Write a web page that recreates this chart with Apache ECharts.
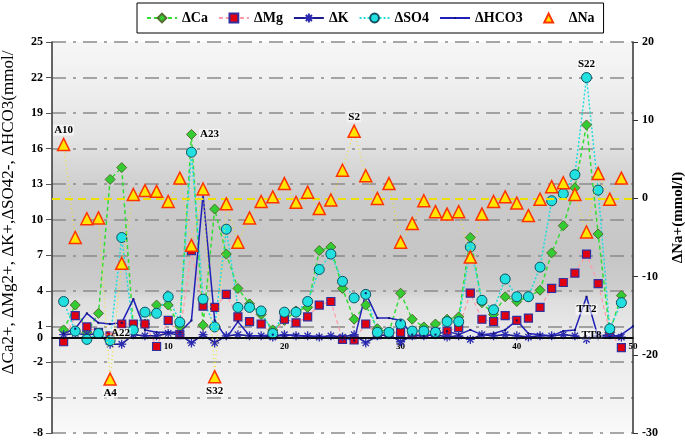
<!DOCTYPE html>
<html><head><meta charset="utf-8">
<script src="https://cdn.jsdelivr.net/npm/echarts@6/dist/echarts.min.js"></script>
<style>html,body{margin:0;padding:0;background:#fff}#c{width:685px;height:440px}</style>
</head><body><div id="c"></div>
<script>
// sample number (x)
const samples = [1,2,3,4,5,6,7,8,9,10,11,12,13,14,15,16,17,18,19,20,21,22,23,24,25,26,27,28,29,30,31,32,33,34,35,36,37,38,39,40,41,42,43,44,45,46,47,48,49,50];
// left axis series (mmol/l)
const dCa   = [0.7,2.8,0.5,2.1,13.4,14.4,0.8,1.2,2.8,2.8,1.0,17.2,1.1,10.9,7.1,4.2,2.9,2.0,0.7,1.5,2.3,2.6,7.4,7.7,4.2,1.6,2.8,0.8,0.5,3.8,1.6,0.95,1.2,1.6,1.8,8.5,3.0,2.0,3.5,3.1,3.5,4.05,7.2,9.5,12.7,18.0,8.8,0.5,3.6];
const dMg   = [-0.3,1.9,0.95,0.5,0.2,1.2,1.2,1.2,-0.7,1.5,0.3,7.4,2.7,2.6,3.7,1.8,1.4,1.2,0.3,1.6,1.3,1.8,2.8,3.1,-0.1,-0.15,1.2,0.3,0.4,0.5,0.3,0.4,0.5,0.6,0.9,3.8,1.6,1.4,1.9,1.5,1.7,2.6,4.2,4.7,5.5,7.1,4.6,0.5,-0.8];
const dK    = [0.3,0.4,0.3,0.4,-0.5,-0.5,0.3,0.2,0.2,0.4,0.3,-0.4,0.3,-0.4,0.2,0.3,0.2,0.2,0.1,0.3,0.2,0.2,0.1,0.2,0.1,0.3,-0.4,0.2,0.3,-0.3,0.2,0.2,0.3,0.1,0.2,-0.1,0.3,0.2,0.3,0.2,0.1,0.2,0.2,0.3,0.2,-0.1,0.2,0.3,0.1];
const dSO4  = [3.1,0.6,-0.1,0.4,-0.2,8.5,0.7,2.2,2.1,3.5,1.35,15.7,3.3,0.95,9.2,2.6,2.6,2.3,0.4,2.2,2.2,3.1,5.8,7.1,4.8,3.4,3.7,0.5,0.5,1.2,0.6,0.6,0.5,1.4,1.4,7.7,3.2,2.4,5.0,3.5,3.5,6.0,11.6,12.2,13.8,22.0,12.5,0.8,3.0];
const dHCO3 = [0.4,0.8,2.1,1.3,1.2,1.3,3.3,0.7,0.5,0.5,0.5,1.5,12.1,1.5,0.0,1.4,0.2,0.2,0.3,0.2,0.3,0.1,0.2,0.0,0.1,-0.2,3.8,1.7,1.7,1.5,0.3,0.2,0.3,0.6,0.3,0.7,0.3,0.4,0.7,1.5,0.4,0.3,0.2,0.6,0.7,3.5,0.1,0.1,0.3,1.0];
// right axis series (mmol/l)
const dNa   = [6.9,-5.0,-2.6,-2.5,-23.1,-8.3,0.5,1.0,0.9,-0.4,2.6,-6.0,1.2,-22.8,-0.7,-5.6,-2.5,-0.4,0.2,1.9,-0.5,0.8,-1.3,-0.2,3.6,8.6,2.9,0.0,1.9,-5.6,-3.2,-0.3,-1.7,-2.0,-1.7,-7.5,-2.0,-0.4,0.2,-0.6,-2.2,-0.1,1.5,2.0,0.5,-4.3,3.2,-0.1,2.6];
// axis ticks
const leftMin = -8, leftMax = 25, leftStep = 3;
const rightMin = -30, rightMax = 20, rightStep = 10;
const xMin = 0, xMax = 50, xStep = 10;
// point annotations
const annSeries = ['ΔNa','ΔCa','ΔNa','ΔSO4','ΔNa','ΔNa','ΔK','ΔHCO3','ΔK'];
const annIndex  = [0,11,25,45,4,13,4,45,47];
const annText   = ['A10','A23','S2','S22','A4','S32','A22','TT2','TT8'];
const annPos    = ['top','right','top','top','bottom','bottom',[5,-11],'bottom','left'];

const FONT = 'Liberation Serif';
const GRID = {left:52, right:52, top:42, bottom:7};
const plotH = 440 - GRID.top - GRID.bottom;
function build(name, arr){
  return arr.map((v,i)=>{
    const k = annSeries.findIndex((s,j)=>s===name && annIndex[j]===i);
    if(k<0) return [samples[i], v];
    return {value:[samples[i], v], label:{show:true, formatter:annText[k], position:annPos[k],
      distance: 2, fontFamily:FONT, fontWeight:'bold', fontSize:11, color:'#000',
      backgroundColor:'rgba(255,255,255,0.55)', padding:[0,1]}};
  });
}
const asterisk = 'path://M0,5 L10,5 M5,0 L5,10 M1.5,1.5 L8.5,8.5 M8.5,1.5 L1.5,8.5';
const tinyDot = 'path://M4,4 L6,4 L6,6 L4,6 Z M0,0 L0,0 M10,10 L10,10';

const chart = echarts.init(document.getElementById('c'), null, {renderer:'canvas'});
chart.setOption({
  animation:false,
  backgroundColor:'#fff',
  textStyle:{fontFamily:FONT},
  legend:{
    top:3, left:137, borderColor:'#000', borderWidth:1, padding:[8,9],
    itemGap:10, itemWidth:30, itemHeight:11,
    textStyle:{fontFamily:FONT, fontWeight:'bold', fontSize:14, color:'#000'},
    data:['ΔCa','ΔMg','ΔK','ΔSO4','ΔHCO3',{name:'ΔNa', lineStyle:{opacity:0}}]
  },
  grid:Object.assign({containLabel:false, outerBoundsMode:'none', show:true, borderWidth:0,
    backgroundColor:new echarts.graphic.LinearGradient(0,0,0,1,[
      {offset:0,color:'#f6f6f6'},{offset:0.1,color:'#f0f0f0'},{offset:0.25,color:'#e3e3e3'},
      {offset:0.33,color:'#d5d5d5'},{offset:0.40,color:'#cbcbcb'},{offset:0.55,color:'#c6c6c6'},
      {offset:0.63,color:'#cdcdcd'},{offset:0.66,color:'#dedede'},{offset:0.72,color:'#e6e6e6'},
      {offset:0.80,color:'#ececec'},{offset:0.92,color:'#f3f3f3'},{offset:1,color:'#fafafa'}])}, GRID),
  xAxis:{type:'value', min:xMin, max:xMax, interval:xStep, position:'bottom',
    // the x axis sits on the left axis' zero line
    offset: -plotH * (0 - leftMin) / (leftMax - leftMin),
    axisLine:{onZero:false, lineStyle:{color:'#000', width:1.5}},
    axisTick:{show:false}, splitLine:{show:false},
    axisLabel:{showMinLabel:false, margin:4, fontFamily:FONT, fontWeight:'bold', fontSize:9, color:'#000'}},
  yAxis:[
    {type:'value', min:leftMin, max:leftMax, interval:leftStep, position:'left',
     name:'ΔCa2+, ΔMg2+, ΔK+,ΔSO42-, ΔHCO3(mmol/', nameLocation:'middle', nameRotate:90, nameGap:35,
     nameMoveOverlap:false,
     nameTextStyle:{fontFamily:FONT, fontSize:17, color:'#000', padding:[0,0,0,50]},
     axisLine:{show:true, onZero:false, lineStyle:{color:'#333', width:1.5}},
     axisTick:{show:true, length:6, lineStyle:{color:'#555'}},
     axisLabel:{margin:9, fontFamily:FONT, fontWeight:'bold', fontSize:12, color:'#000'},
     splitLine:{show:true, lineStyle:{color:'#8a8a8a', width:1.5, type:[14,7,3,7]}}},
    {type:'value', min:rightMin, max:rightMax, interval:rightStep, position:'right',
     name:'ΔNa+(mmol/l)', nameLocation:'middle', nameRotate:90, nameGap:38,
     nameTextStyle:{fontFamily:FONT, fontSize:15, fontWeight:'bold', color:'#000', padding:[0,0,0,40]},
     axisLine:{show:true, onZero:false, lineStyle:{color:'#333', width:1.5}},
     axisTick:{show:true, length:5, lineStyle:{color:'#333'}},
     axisLabel:{margin:9, fontFamily:FONT, fontWeight:'bold', fontSize:12, color:'#000'},
     splitLine:{show:false}}
  ],
  series:[
    {name:'ΔCa', type:'line', yAxisIndex:0, data:build('ΔCa', dCa),
     symbol:'diamond', symbolSize:10,
     lineStyle:{color:'#33dd33', width:1.5, type:[4,3]},
     itemStyle:{color:'#33cc33', borderColor:'#556b2f', borderWidth:1},
     markLine:{silent:true, symbol:'none', data:[{yAxis:0}],
       lineStyle:{color:'#000', width:1.5, type:'solid'},
       label:{show:true, position:'start', formatter:'0', padding:[0,4,0,0], fontFamily:FONT, fontWeight:'bold', fontSize:12, color:'#000'}}},
    {name:'ΔMg', type:'line', yAxisIndex:0, data:build('ΔMg', dMg),
     symbol:'rect', symbolSize:8,
     lineStyle:{color:'#ff9aa8', width:1.2, type:[4,3]},
     itemStyle:{color:'#e00010', borderColor:'#3030a0', borderWidth:1.2}},
    {name:'ΔK', type:'line', yAxisIndex:0, data:build('ΔK', dK),
     symbol:asterisk, symbolSize:9,
     lineStyle:{color:'#1c1c8c', width:1.5},
     itemStyle:{color:'#2a2ab0', borderColor:'#2a2ab0', borderWidth:1.3}},
    {name:'ΔSO4', type:'line', yAxisIndex:0, data:build('ΔSO4', dSO4),
     symbol:'circle', symbolSize:10,
     lineStyle:{color:'#22dddd', width:1.5, type:[2,2]},
     itemStyle:{color:'#22e0e0', borderColor:'#105060', borderWidth:1}},
    {name:'ΔHCO3', type:'line', yAxisIndex:0, data:build('ΔHCO3', dHCO3),
     symbol:tinyDot, symbolSize:10,
     lineStyle:{color:'#2020b8', width:1.5},
     itemStyle:{color:'#101070'}},
    {name:'ΔNa', type:'line', yAxisIndex:1, data:build('ΔNa', dNa),
     symbol:'triangle', symbolSize:12, z:5,
     lineStyle:{color:'#f0e030', width:1.2, type:[1,3]},
     itemStyle:{color:'#ffe600', borderColor:'#ff3300', borderWidth:1.5},
     markLine:{silent:true, symbol:'none', data:[{yAxis:0}],
       lineStyle:{color:'#f0e000', width:2, type:[8,5]}, label:{show:false}}}
  ]
});
</script></body></html>
